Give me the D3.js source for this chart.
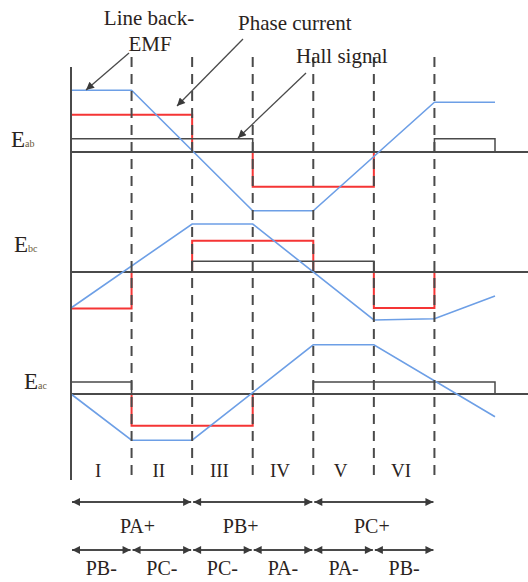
<!DOCTYPE html>
<html>
<head>
<meta charset="utf-8">
<script src="https://cdn.jsdelivr.net/npm/d3@7"></script>
<style>
  body { margin: 0; background: #fff; }
  svg { display: block; }
</style>
</head>
<body>
<svg id="chart" width="528" height="582" font-family="'Liberation Serif', 'DejaVu Serif', 'Times New Roman', serif"></svg>
<script>
// ---- data (time in sectors, amplitude in relative units) ----
var sectors = ["I", "II", "III", "IV", "V", "VI"];
var panelNames = ["ab", "bc", "ac"];

// line back-EMF : [t, value]
var emfAB = [[0, 1.03], [1, 1.03], [3, -0.98], [4, -0.98], [6, 0.83], [7, 0.83]];
var emfBC = [[0, -0.6], [2, 0.8], [3, 0.8], [5, -0.8], [6, -0.78], [7, -0.4]];
var emfAC = [[0, 0], [1, -0.77], [2, -0.77], [4, 0.82], [5, 0.82], [7, -0.38]];

// phase current pulses : [tStart, tEnd, value]
var curAB = [[0, 2, 0.62], [3, 5, -0.58]];
var curBC = [[0, 1, -0.61], [2, 4, 0.52], [5, 6, -0.6]];
var curAC = [[1, 3, -0.53]];

// hall signal pulses : [tStart, tEnd]
var hallAB = [[0, 3], [6, 7]];
var hallBC = [[2, 5]];
var hallAC = [[0, 1], [4, 7]];
var hallLevel = [0.22, 0.18, 0.2];

// conduction intervals
var upperSpans = [[0, 2], [2, 4], [4, 6]];
var upperLabels = ["PA+", "PB+", "PC+"];
var lowerSpans = [[0, 1], [1, 2], [2, 3], [3, 4], [4, 5], [5, 6]];
var lowerLabels = ["PB-", "PC-", "PC-", "PA-", "PA-", "PB-"];

// ---- drawing ----
var svg = d3.select("#chart");
var colBlue = "#6d9fe6", colRed = "#f53535", colDark = "#4a4a4a", colText = "#2a2320";

var x = d3.scaleLinear().domain([0, 7]).range([71, 495]);
var baselines = [152, 272, 394];
var panels = [
  { emf: emfAB, cur: curAB, hall: hallAB },
  { emf: emfBC, cur: curBC, hall: hallBC },
  { emf: emfAC, cur: curAC, hall: hallAC }
];

// arrow markers
var defs = svg.append("defs");
function marker(id, orient) {
  defs.append("marker")
    .attr("id", id)
    .attr("viewBox", "0 0 10 10")
    .attr("refX", 10).attr("refY", 5)
    .attr("markerWidth", 10).attr("markerHeight", 8)
    .attr("markerUnits", "userSpaceOnUse")
    .attr("orient", orient)
    .append("path")
    .attr("d", "M0,0 L10,5 L0,10 z")
    .attr("fill", "#3a3a3a");
}
marker("head", "auto");
marker("headStart", "auto-start-reverse");

var line = d3.line();

panels.forEach(function(p, i) {
  var base = baselines[i];
  var y = d3.scaleLinear().domain([-1, 1]).range([base + 60, base - 60]);
  var g = svg.append("g");

  // phase current
  p.cur.forEach(function(c) {
    g.append("path")
      .attr("d", line([[x(c[0]), y(0)], [x(c[0]), y(c[2])], [x(c[1]), y(c[2])], [x(c[1]), y(0)]]))
      .attr("fill", "none").attr("stroke", colRed).attr("stroke-width", 2);
  });

  // zero line
  g.append("line")
    .attr("x1", x(0)).attr("x2", 528)
    .attr("y1", base).attr("y2", base)
    .attr("stroke", colDark).attr("stroke-width", 2);

  // hall signal
  p.hall.forEach(function(h) {
    g.append("path")
      .attr("d", line([[x(h[0]), y(0)], [x(h[0]), y(hallLevel[i])], [x(h[1]), y(hallLevel[i])], [x(h[1]), y(0)]]))
      .attr("fill", "none").attr("stroke", colDark).attr("stroke-width", 1.5);
  });

  // back-EMF
  g.append("path")
    .attr("d", line(p.emf.map(function(d){ return [x(d[0]), y(d[1])]; })))
    .attr("fill", "none").attr("stroke", colBlue).attr("stroke-width", 1.6);

  // label E_xx
  var lbl = g.append("text").attr("x", [11, 14, 24][i]).attr("y", base - [5, 20, 5][i])
    .attr("fill", colText);
  lbl.append("tspan").attr("font-size", 23).text("E");
  lbl.append("tspan").attr("font-size", 10).attr("fill", "#6a5a3a").text(panelNames[i]);
});

// sector dividers (drawn over the traces)
svg.append("line")
  .attr("x1", x(0)).attr("x2", x(0))
  .attr("y1", 67).attr("y2", 480)
  .attr("stroke", colDark).attr("stroke-width", 2);

svg.selectAll(".divider")
  .data(d3.range(1, 7))
  .enter().append("line")
  .attr("class", "divider")
  .attr("x1", function(d){ return x(d); })
  .attr("x2", function(d){ return x(d); })
  .attr("y1", 57).attr("y2", 480)
  .attr("stroke", colDark).attr("stroke-width", 2)
  .attr("stroke-dasharray", "10,7");

// annotations
function note(tx, ty, anchor, s) {
  svg.append("text").attr("x", tx).attr("y", ty).attr("text-anchor", anchor)
    .attr("font-size", 21).attr("fill", colText).text(s);
}
note(149, 25, "middle", "Line back-");
note(150, 51, "middle", "EMF");
note(238, 30, "start", "Phase current");
note(296, 63, "start", "Hall signal");

var pointers = [[[129, 53], [86, 90]], [[243, 39], [177, 106]], [[306, 73], [238, 138]]];
pointers.forEach(function(pt) {
  svg.append("line")
    .attr("x1", pt[0][0]).attr("y1", pt[0][1])
    .attr("x2", pt[1][0]).attr("y2", pt[1][1])
    .attr("stroke", colDark).attr("stroke-width", 1.3)
    .attr("marker-end", "url(#head)");
});

// sector numerals
svg.selectAll(".sector")
  .data(sectors)
  .enter().append("text")
  .attr("class", "sector")
  .attr("x", function(d, i){ return x(i + 0.5) - 3; })
  .attr("y", 477)
  .attr("text-anchor", "middle")
  .attr("font-size", 19)
  .attr("fill", colText)
  .text(function(d){ return d; });

// conduction arrows
function arrowRow(spans, labels, yLine, yText, nudge) {
  spans.forEach(function(s, i) {
    svg.append("line")
      .attr("x1", x(s[0]) + 1).attr("x2", x(s[1]) - 1)
      .attr("y1", yLine).attr("y2", yLine)
      .attr("stroke", colDark).attr("stroke-width", 2)
      .attr("marker-start", "url(#headStart)")
      .attr("marker-end", "url(#head)");
    svg.append("text")
      .attr("x", (x(s[0]) + x(s[1])) / 2 + (nudge ? nudge[i] : 0))
      .attr("y", yText)
      .attr("text-anchor", "middle")
      .attr("font-size", 20)
      .attr("fill", colText)
      .text(labels[i]);
  });
}
arrowRow(upperSpans, upperLabels, 502, 533, [6, -12, -2]);
arrowRow(lowerSpans, lowerLabels, 550, 575, null);
</script>
</body>
</html>
